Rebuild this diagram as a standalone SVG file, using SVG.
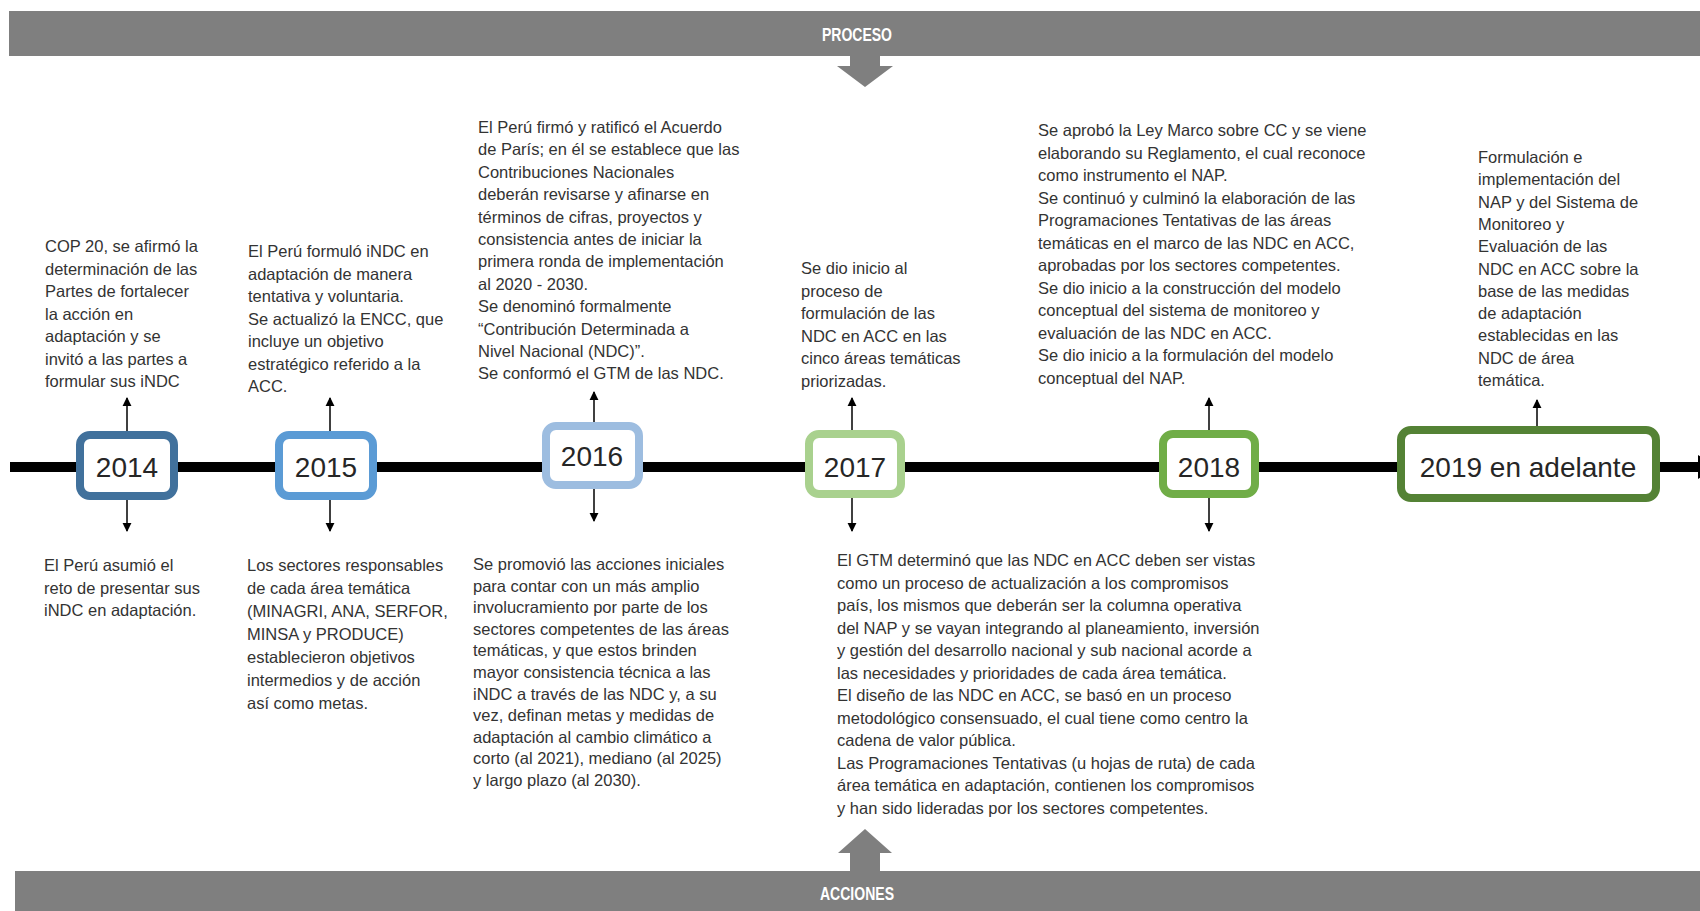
<svg xmlns="http://www.w3.org/2000/svg" width="1700" height="911" viewBox="0 0 1700 911">
  <defs>
    <style>
      .band { fill: #7f7f7f; }
      .band-t { font-family: "Liberation Sans", Arial, sans-serif; font-weight: bold; font-size: 18px; fill: #ffffff; text-anchor: middle; }
      .fat { fill: #7f7f7f; }
      .t { font-family: "Liberation Sans", Arial, sans-serif; font-size: 16.5px; fill: #333333; }
      .yr { font-family: "Liberation Sans", Arial, sans-serif; font-size: 28px; fill: #262626; text-anchor: middle; }
      .box { fill: #ffffff; stroke-width: 8; }
      .lnk { stroke: #000000; stroke-width: 1.5; fill: none; marker-end: url(#tip); }
    </style>
    <marker id="tip" viewBox="0 0 10 10" refX="9" refY="5" markerWidth="9" markerHeight="10" markerUnits="userSpaceOnUse" orient="auto">
      <path d="M0,0 L10,5 L0,10 Z" fill="#000000"/>
    </marker>
  </defs>

  <rect width="1700" height="911" fill="#ffffff"/>

  <!-- header band -->
  <g id="proceso">
    <rect class="band" x="9" y="11" width="1691" height="45"/>
    <text class="band-t" x="857" y="41" textLength="70" lengthAdjust="spacingAndGlyphs">PROCESO</text>
    <polygon class="fat" points="850,56 880,56 880,66 893,66 865,87 837,66 850,66"/>
  </g>

  <!-- footer band -->
  <g id="acciones">
    <rect class="band" x="15" y="871" width="1685" height="40"/>
    <text class="band-t" x="857" y="900" textLength="74" lengthAdjust="spacingAndGlyphs">ACCIONES</text>
    <polygon class="fat" points="865,829 892,853 880,853 880,871 850,871 850,853 838,853"/>
  </g>

  <!-- timeline axis -->
  <g id="axis">
    <line x1="10" y1="467" x2="1698" y2="467" stroke="#000000" stroke-width="10"/>
    <polygon points="1698,455 1716,467 1698,479" fill="#000000"/>
  </g>

  <!-- connectors -->
  <g id="connectors">
    <line class="lnk" x1="127" y1="431" x2="127" y2="398"/>
    <line class="lnk" x1="127" y1="500" x2="127" y2="531"/>
    <line class="lnk" x1="330" y1="431" x2="330" y2="398"/>
    <line class="lnk" x1="330" y1="500" x2="330" y2="531"/>
    <line class="lnk" x1="594" y1="422" x2="594" y2="392"/>
    <line class="lnk" x1="594" y1="489" x2="594" y2="521"/>
    <line class="lnk" x1="852" y1="430" x2="852" y2="398"/>
    <line class="lnk" x1="852" y1="498" x2="852" y2="531"/>
    <line class="lnk" x1="1209" y1="430" x2="1209" y2="398"/>
    <line class="lnk" x1="1209" y1="498" x2="1209" y2="531"/>
    <line class="lnk" x1="1537" y1="426" x2="1537" y2="400"/>
  </g>

  <!-- year nodes -->
  <g id="y2014">
    <rect class="box" x="80" y="435" width="94" height="61" rx="10" stroke="#41719c"/>
    <text class="yr" x="127" y="477">2014</text>
  </g>
  <g id="y2015">
    <rect class="box" x="279" y="435" width="94" height="61" rx="10" stroke="#5b9bd5"/>
    <text class="yr" x="326" y="477">2015</text>
  </g>
  <g id="y2016">
    <rect class="box" x="546" y="426" width="93" height="59" rx="10" stroke="#9dbde0"/>
    <text class="yr" x="592" y="466">2016</text>
  </g>
  <g id="y2017">
    <rect class="box" x="809" y="434" width="92" height="60" rx="10" stroke="#a9d18e"/>
    <text class="yr" x="855" y="477">2017</text>
  </g>
  <g id="y2018">
    <rect class="box" x="1163" y="434" width="92" height="60" rx="10" stroke="#70ad47"/>
    <text class="yr" x="1209" y="477">2018</text>
  </g>
  <g id="y2019">
    <rect class="box" x="1401" y="430" width="255" height="68" rx="10" stroke="#548235"/>
    <text class="yr" x="1528" y="477">2019 en adelante</text>
  </g>

  <!-- 2014 notes -->
  <g id="n2014a">
    <text class="t" x="45" y="252">
      <tspan x="45" dy="0">COP 20, se afirmó la</tspan>
      <tspan x="45" dy="22.5">determinación de las</tspan>
      <tspan x="45" dy="22.5">Partes de fortalecer</tspan>
      <tspan x="45" dy="22.5">la acción en</tspan>
      <tspan x="45" dy="22.5">adaptación y se</tspan>
      <tspan x="45" dy="22.5">invitó a las partes a</tspan>
      <tspan x="45" dy="22.5">formular sus iNDC</tspan>
    </text>
  </g>
  <g id="n2014b">
    <text class="t" x="44" y="571">
      <tspan x="44" dy="0">El Perú asumió el</tspan>
      <tspan x="44" dy="22.5">reto de presentar sus</tspan>
      <tspan x="44" dy="22.5">iNDC en adaptación.</tspan>
    </text>
  </g>

  <!-- 2015 notes -->
  <g id="n2015a">
    <text class="t" x="248" y="257">
      <tspan x="248" dy="0">El Perú formuló iNDC en</tspan>
      <tspan x="248" dy="22.5">adaptación de manera</tspan>
      <tspan x="248" dy="22.5">tentativa y voluntaria.</tspan>
      <tspan x="248" dy="22.5">Se actualizó la ENCC, que</tspan>
      <tspan x="248" dy="22.5">incluye un objetivo</tspan>
      <tspan x="248" dy="22.5">estratégico referido a la</tspan>
      <tspan x="248" dy="22.5">ACC.</tspan>
    </text>
  </g>
  <g id="n2015b">
    <text class="t" x="247" y="571">
      <tspan x="247" dy="0">Los sectores responsables</tspan>
      <tspan x="247" dy="23">de cada área temática</tspan>
      <tspan x="247" dy="23">(MINAGRI, ANA, SERFOR,</tspan>
      <tspan x="247" dy="23">MINSA y PRODUCE)</tspan>
      <tspan x="247" dy="23">establecieron objetivos</tspan>
      <tspan x="247" dy="23">intermedios y de acción</tspan>
      <tspan x="247" dy="23">así como metas.</tspan>
    </text>
  </g>

  <!-- 2016 notes -->
  <g id="n2016a">
    <text class="t" x="478" y="133">
      <tspan x="478" dy="0">El Perú firmó y ratificó el Acuerdo</tspan>
      <tspan x="478" dy="22.4">de París; en él se establece que las</tspan>
      <tspan x="478" dy="22.4">Contribuciones Nacionales</tspan>
      <tspan x="478" dy="22.4">deberán revisarse y afinarse en</tspan>
      <tspan x="478" dy="22.4">términos de cifras, proyectos y</tspan>
      <tspan x="478" dy="22.4">consistencia antes de iniciar la</tspan>
      <tspan x="478" dy="22.4">primera ronda de implementación</tspan>
      <tspan x="478" dy="22.4">al 2020 - 2030.</tspan>
      <tspan x="478" dy="22.4">Se denominó formalmente</tspan>
      <tspan x="478" dy="22.4">“Contribución Determinada a</tspan>
      <tspan x="478" dy="22.4">Nivel Nacional (NDC)”.</tspan>
      <tspan x="478" dy="22.4">Se conformó el GTM de las NDC.</tspan>
    </text>
  </g>
  <g id="n2016b">
    <text class="t" x="473" y="570">
      <tspan x="473" dy="0">Se promovió las acciones iniciales</tspan>
      <tspan x="473" dy="21.6">para contar con un más amplio</tspan>
      <tspan x="473" dy="21.6">involucramiento por parte de los</tspan>
      <tspan x="473" dy="21.6">sectores competentes de las áreas</tspan>
      <tspan x="473" dy="21.6">temáticas, y que estos brinden</tspan>
      <tspan x="473" dy="21.6">mayor consistencia técnica a las</tspan>
      <tspan x="473" dy="21.6">iNDC a través de las NDC y, a su</tspan>
      <tspan x="473" dy="21.6">vez, definan metas y medidas de</tspan>
      <tspan x="473" dy="21.6">adaptación al cambio climático a</tspan>
      <tspan x="473" dy="21.6">corto (al 2021), mediano (al 2025)</tspan>
      <tspan x="473" dy="21.6">y largo plazo (al 2030).</tspan>
    </text>
  </g>

  <!-- 2017 notes -->
  <g id="n2017a">
    <text class="t" x="801" y="274">
      <tspan x="801" dy="0">Se dio inicio al</tspan>
      <tspan x="801" dy="22.5">proceso de</tspan>
      <tspan x="801" dy="22.5">formulación de las</tspan>
      <tspan x="801" dy="22.5">NDC en ACC en las</tspan>
      <tspan x="801" dy="22.5">cinco áreas temáticas</tspan>
      <tspan x="801" dy="22.5">priorizadas.</tspan>
    </text>
  </g>
  <g id="n2017b">
    <text class="t" x="837" y="566">
      <tspan x="837" dy="0">El GTM determinó que las NDC en ACC deben ser vistas</tspan>
      <tspan x="837" dy="22.5">como un proceso de actualización a los compromisos</tspan>
      <tspan x="837" dy="22.5">país, los mismos que deberán ser la columna operativa</tspan>
      <tspan x="837" dy="22.5">del NAP y se vayan integrando al planeamiento, inversión</tspan>
      <tspan x="837" dy="22.5">y gestión del desarrollo nacional y sub nacional acorde a</tspan>
      <tspan x="837" dy="22.5">las necesidades y prioridades de cada área temática.</tspan>
      <tspan x="837" dy="22.5">El diseño de las NDC en ACC, se basó en un proceso</tspan>
      <tspan x="837" dy="22.5">metodológico consensuado, el cual tiene como centro la</tspan>
      <tspan x="837" dy="22.5">cadena de valor pública.</tspan>
      <tspan x="837" dy="22.5">Las Programaciones Tentativas (u hojas de ruta) de cada</tspan>
      <tspan x="837" dy="22.5">área temática en adaptación, contienen los compromisos</tspan>
      <tspan x="837" dy="22.5">y han sido lideradas por los sectores competentes.</tspan>
    </text>
  </g>

  <!-- 2018 notes -->
  <g id="n2018a">
    <text class="t" x="1038" y="136">
      <tspan x="1038" dy="0">Se aprobó la Ley Marco sobre CC y se viene</tspan>
      <tspan x="1038" dy="22.5">elaborando su Reglamento, el cual reconoce</tspan>
      <tspan x="1038" dy="22.5">como instrumento el NAP.</tspan>
      <tspan x="1038" dy="22.5">Se continuó y culminó la elaboración de las</tspan>
      <tspan x="1038" dy="22.5">Programaciones Tentativas de las áreas</tspan>
      <tspan x="1038" dy="22.5">temáticas en el marco de las NDC en ACC,</tspan>
      <tspan x="1038" dy="22.5">aprobadas por los sectores competentes.</tspan>
      <tspan x="1038" dy="22.5">Se dio inicio a la construcción del modelo</tspan>
      <tspan x="1038" dy="22.5">conceptual del sistema de monitoreo y</tspan>
      <tspan x="1038" dy="22.5">evaluación de las NDC en ACC.</tspan>
      <tspan x="1038" dy="22.5">Se dio inicio a la formulación del modelo</tspan>
      <tspan x="1038" dy="22.5">conceptual del NAP.</tspan>
    </text>
  </g>

  <!-- 2019 notes -->
  <g id="n2019a">
    <text class="t" x="1478" y="163">
      <tspan x="1478" dy="0">Formulación e</tspan>
      <tspan x="1478" dy="22.3">implementación del</tspan>
      <tspan x="1478" dy="22.3">NAP y del Sistema de</tspan>
      <tspan x="1478" dy="22.3">Monitoreo y</tspan>
      <tspan x="1478" dy="22.3">Evaluación de las</tspan>
      <tspan x="1478" dy="22.3">NDC en ACC sobre la</tspan>
      <tspan x="1478" dy="22.3">base de las medidas</tspan>
      <tspan x="1478" dy="22.3">de adaptación</tspan>
      <tspan x="1478" dy="22.3">establecidas en las</tspan>
      <tspan x="1478" dy="22.3">NDC de área</tspan>
      <tspan x="1478" dy="22.3">temática.</tspan>
    </text>
  </g>
</svg>
